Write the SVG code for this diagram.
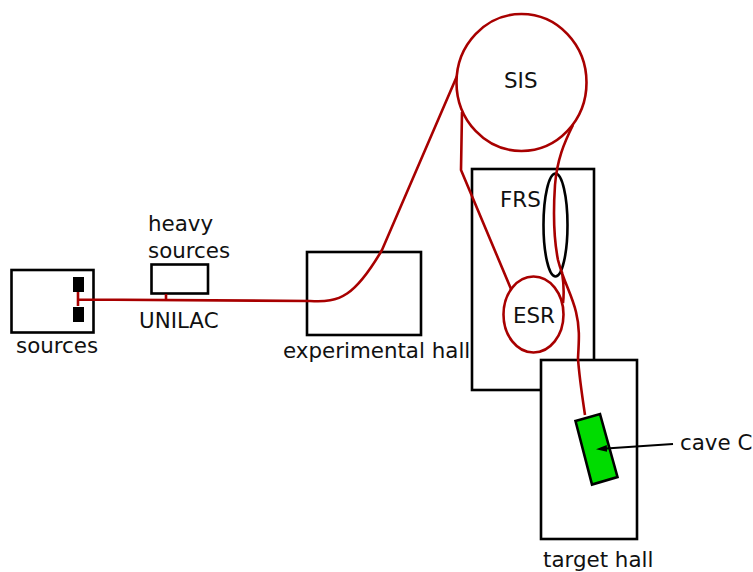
<svg xmlns="http://www.w3.org/2000/svg" width="753" height="572" viewBox="0 0 753 572">
<style>
.b{fill:#fff;stroke:#000;stroke-width:2.6}
.n{fill:none;stroke:#000;stroke-width:2.6}
.r{fill:none;stroke:#a80000;stroke-width:2.6}
.c{fill:#fff;stroke:#a80000;stroke-width:2.6}
text{font-family:"DejaVu Sans",sans-serif;font-size:21.4px;fill:#111}
</style>
<defs><marker id="a" markerUnits="userSpaceOnUse" markerWidth="12" markerHeight="8" refX="1" refY="4" orient="auto"><path d="M11 4L0 0.500L0 7.500Z" fill="#000"/></marker></defs>
<g id="frs-hall"><rect class="b" x="472" y="169" width="122" height="221"/><text x="500" y="207">FRS</text></g>
<g id="sis"><ellipse class="c" cx="521.500" cy="82.500" rx="65" ry="68.500" style="fill:none"/><text x="504" y="88">SIS</text></g>
<g id="esr"><ellipse class="c" cx="533.500" cy="314.500" rx="30" ry="38"/><text x="513" y="323">ESR</text></g>
<g id="frs-ring"><ellipse class="n" cx="555.500" cy="225" rx="12" ry="51.500"/></g>
<g id="target-hall"><rect class="b" x="541" y="360" width="96" height="179"/><text x="543" y="567">target hall</text></g>
<g id="experimental-hall"><rect class="b" x="307" y="252" width="114" height="83"/><text x="283" y="358">experimental hall</text></g>
<g id="sources"><rect class="b" x="11.500" y="270" width="82" height="62.500"/><rect x="73" y="277" width="11" height="15" fill="#000"/><rect x="73" y="307" width="11" height="15" fill="#000"/><text x="16" y="353">sources</text></g>
<g id="heavy-sources"><rect class="b" x="151.500" y="264.500" width="56.500" height="29"/><text x="148" y="231">heavy</text><text x="148" y="258">sources</text></g>
<g id="unilac"><text x="139" y="328">UNILAC</text></g>
<g id="cave-c"><path d="M575.500 421L600 414L617.500 477L592 484.500Z" fill="#00dc00" stroke="#000" stroke-width="2.600"/><text x="680" y="450">cave C</text></g>
<g id="connectors">
<path class="r" d="M78 292V306M78 299.500L310 301C340 303 355 296 382 250L457 76M462 112L461 170L511 289"/>
<path class="r" d="M573 125C564 143 557 160 555 185C553 215 554 240 558 260C563 280 572 295 576 312C580 328 579 340 578 358C579 375 582 395 585 415M562 272C564 285 564 295 563 303"/>
<path class="r" d="M166 294V300"/>
<path d="M673 444L606 448.500" style="stroke:#000;stroke-width:1.800;fill:none" marker-end="url(#a)"/>
</g>
</svg>
